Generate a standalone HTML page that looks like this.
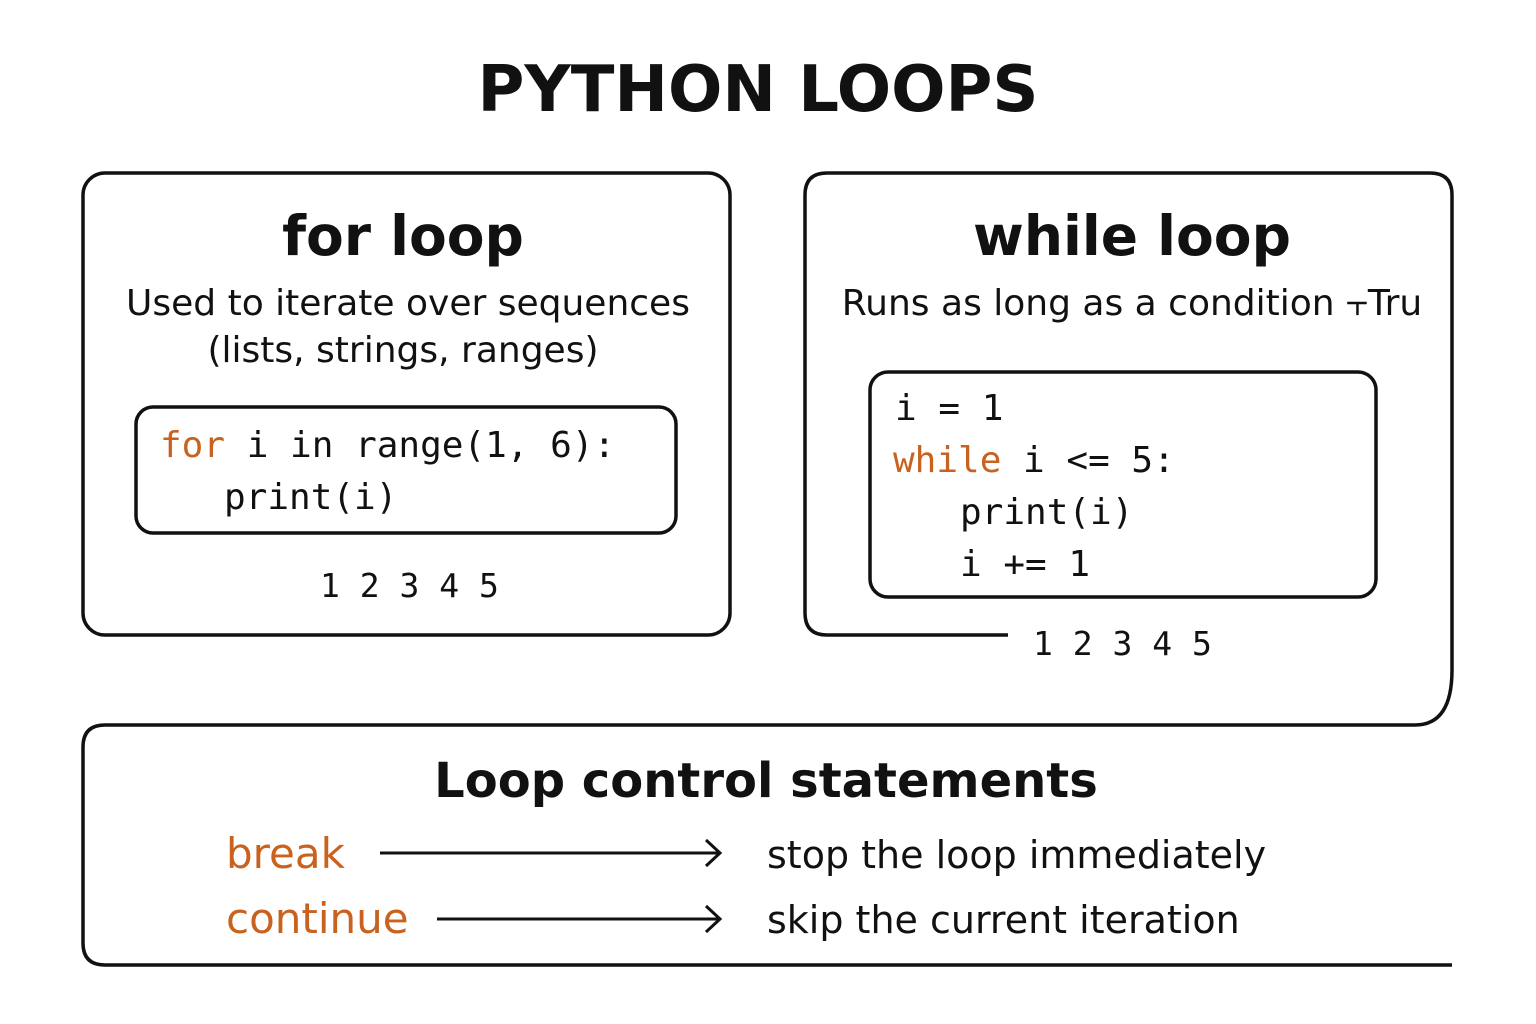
<!DOCTYPE html>
<html><head><meta charset="utf-8"><style>
html,body{margin:0;padding:0;background:#fff;width:1536px;height:1024px;overflow:hidden}
svg text{fill:#111}
.s{font-family:"DejaVu Sans","Liberation Sans",sans-serif}
.m{font-family:"DejaVu Sans Mono","Liberation Mono",monospace}
.o{fill:#c8621e}
</style></head><body>
<svg width="1536" height="1024" viewBox="0 0 1536 1024" xmlns="http://www.w3.org/2000/svg">
<g fill="none" stroke="#111" stroke-width="3.5">
<rect x="83" y="173" width="647" height="462" rx="22"/>
<rect x="136" y="407" width="540" height="126" rx="17"/>
<path d="M1008 635 H827 Q805 635 805 613 V195 Q805 173 827 173 H1430 Q1452 173 1452 195 V670 Q1452 725 1415 725 H105 Q83 725 83 747 V943 Q83 965 105 965 H1452"/>
<rect x="870" y="372" width="506" height="225" rx="18"/>
<path d="M380 853 H718 M706 840 L720 853 L706 866" stroke-width="3"/>
<path d="M437 919 H718 M706 906 L720 919 L706 932" stroke-width="3"/>
</g>
<text x="758" y="111" text-anchor="middle" class="s" font-size="64" font-weight="bold">PYTHON LOOPS</text>
<text x="403" y="255" text-anchor="middle" class="s" font-size="55" font-weight="bold">for loop</text>
<text x="408" y="315" text-anchor="middle" class="s" font-size="36">Used to iterate over sequences</text>
<text x="403" y="362" text-anchor="middle" class="s" font-size="36">(lists, strings, ranges)</text>
<text x="160" y="457" class="m" font-size="36" xml:space="preserve"><tspan class="o">for</tspan> i in range(1, 6):</text>
<text x="224" y="509" class="m" font-size="36">print(i)</text>
<text x="320" y="597" class="m" font-size="33">1 2 3 4 5</text>
<text x="1132" y="255" text-anchor="middle" class="s" font-size="55" font-weight="bold">while loop</text>
<text x="1132" y="315" text-anchor="middle" class="s" font-size="36">Runs as long as a condition ⫟Tru</text>
<text x="895" y="420" class="m" font-size="36">i = 1</text>
<text x="893" y="472" class="m" font-size="36" xml:space="preserve"><tspan class="o">while</tspan> i &lt;= 5:</text>
<text x="960" y="524" class="m" font-size="36">print(i)</text>
<text x="960" y="576" class="m" font-size="36">i += 1</text>
<text x="1033" y="655" class="m" font-size="33">1 2 3 4 5</text>
<text x="766" y="797" text-anchor="middle" class="s" font-size="48" font-weight="bold">Loop control statements</text>
<text x="226" y="868" class="s o" font-size="42">break</text>
<text x="226" y="933" class="s o" font-size="42">continue</text>
<text x="767" y="868" class="s" font-size="38">stop the loop immediately</text>
<text x="767" y="933" class="s" font-size="38">skip the current iteration</text>
</svg>
</body></html>
